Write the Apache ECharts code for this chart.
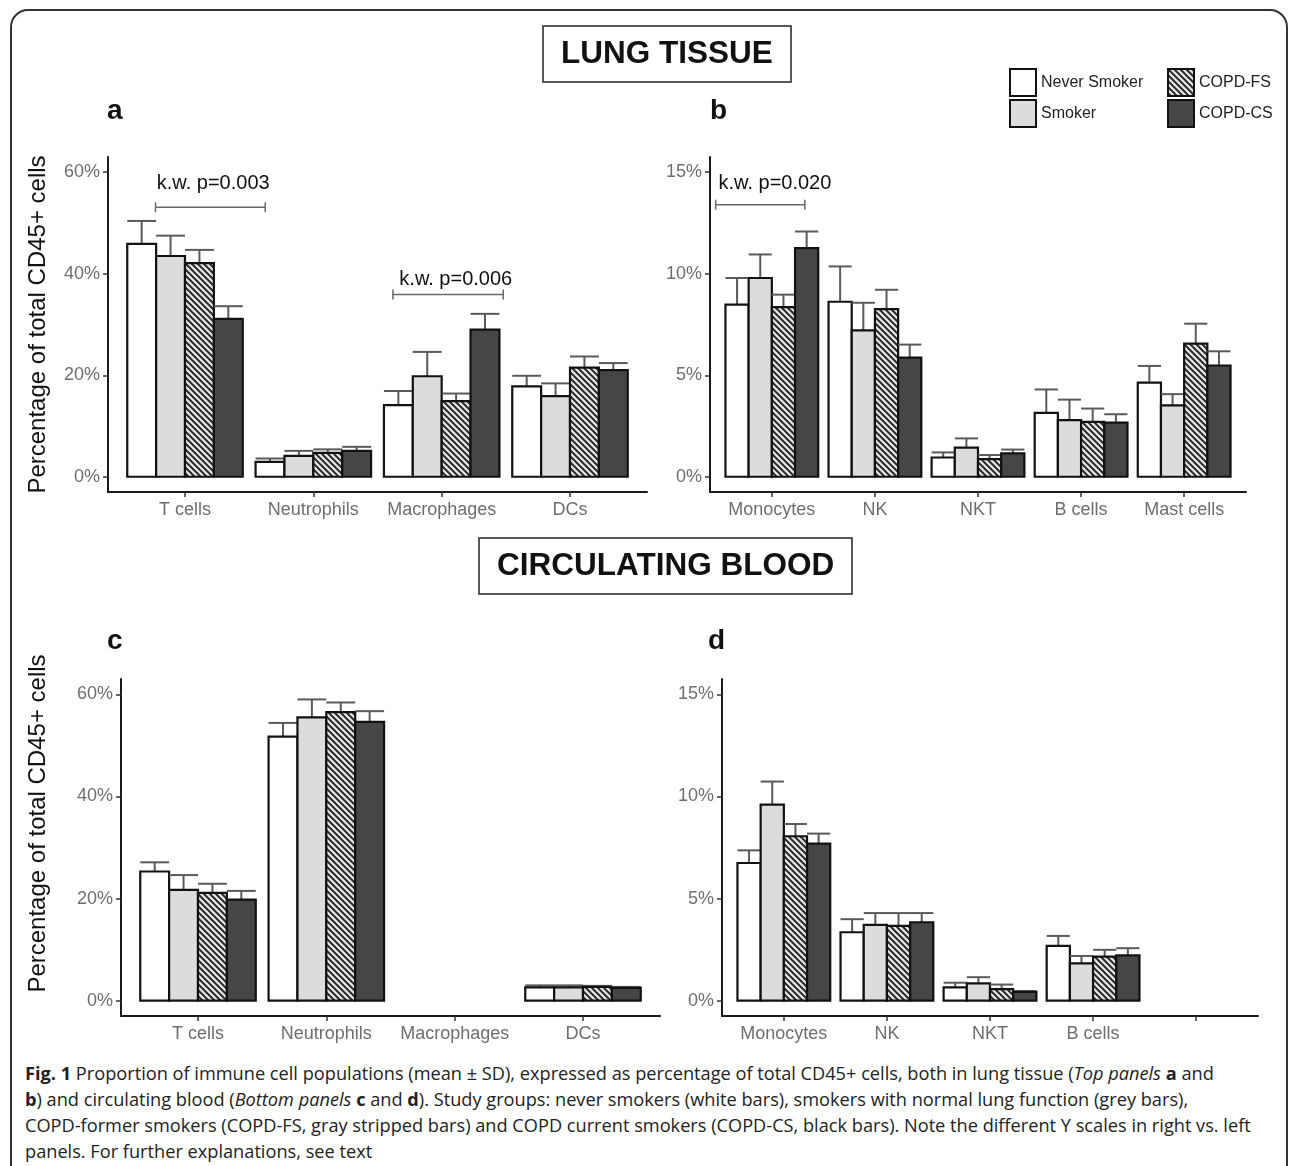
<!DOCTYPE html>
<html>
<head>
<meta charset="utf-8">
<script src="https://cdn.jsdelivr.net/npm/echarts@6/dist/echarts.min.js"></script>
<style>
  body { margin: 0; background: #fff; }
  #frame { position: absolute; left: 10px; top: 9px; width: 1278px; height: 1200px; border: 2px solid #333; border-radius: 18px; box-sizing: border-box; }
  #chart { position: absolute; left: 0; top: 0; width: 1293px; height: 1060px; }
  #caption { position: absolute; left: 25px; top: 1060px; font-family: 'Open Sans', sans-serif; font-size: 18.2px; line-height: 26px; color: #222; white-space: nowrap; }
</style>
</head>
<body>
<div id="frame"></div>
<div id="chart"></div>
<div id="caption">
  <div><b>Fig. 1</b> Proportion of immune cell populations (mean ± SD), expressed as percentage of total CD45+ cells, both in lung tissue (<i>Top panels</i> <b>a</b> and</div>
  <div><b>b</b>) and circulating blood (<i>Bottom panels</i> <b>c</b> and <b>d</b>). Study groups: never smokers (white bars), smokers with normal lung function (grey bars),</div>
  <div>COPD-former smokers (COPD-FS, gray stripped bars) and COPD current smokers (COPD-CS, black bars). Note the different Y scales in right vs. left</div>
  <div>panels. For further explanations, see text</div>
</div>
<script>
// groups
const groups = ['Never Smoker', 'Smoker', 'COPD-FS', 'COPD-CS']

// lung tissue, left panel (a)
const lungLeftCats = ['T cells', 'Neutrophils', 'Macrophages', 'DCs']
const lungLeftNever = [45.9, 2.95, 14.1, 17.8]
const lungLeftSmoker = [43.5, 4.1, 19.8, 15.9]
const lungLeftFS = [42.1, 4.7, 14.9, 21.5]
const lungLeftCS = [31.1, 5.1, 29.0, 21.0]
const lungLeftNeverSD = [4.5, 0.65, 2.8, 2.1]
const lungLeftSmokerSD = [4.0, 1.0, 4.8, 2.5]
const lungLeftFSSD = [2.6, 0.7, 1.5, 2.2]
const lungLeftCSSD = [2.5, 0.8, 3.1, 1.4]

// lung tissue, right panel (b)
const lungRightCats = ['Monocytes', 'NK', 'NKT', 'B cells', 'Mast cells']
const lungRightNever = [8.48, 8.62, 0.95, 3.15, 4.64]
const lungRightSmoker = [9.79, 7.21, 1.44, 2.79, 3.52]
const lungRightFS = [8.36, 8.26, 0.87, 2.70, 6.56]
const lungRightCS = [11.26, 5.87, 1.15, 2.67, 5.48]
const lungRightNeverSD = [1.31, 1.74, 0.25, 1.15, 0.82]
const lungRightSmokerSD = [1.16, 1.36, 0.45, 1.01, 0.55]
const lungRightFSSD = [0.61, 0.95, 0.20, 0.66, 0.98]
const lungRightCSSD = [0.82, 0.64, 0.19, 0.41, 0.70]

// circulating blood, left panel (c)
const bloodLeftCats = ['T cells', 'Neutrophils', 'Macrophages', 'DCs']
const bloodLeftNever = [25.3, 51.7, null, 2.6]
const bloodLeftSmoker = [21.7, 55.5, null, 2.6]
const bloodLeftFS = [21.1, 56.5, null, 2.7]
const bloodLeftCS = [19.8, 54.6, null, 2.5]
const bloodLeftNeverSD = [1.8, 2.7, null, 0.4]
const bloodLeftSmokerSD = [2.9, 3.5, null, 0.4]
const bloodLeftFSSD = [1.8, 1.9, null, 0.2]
const bloodLeftCSSD = [1.7, 2.1, null, 0.2]

// circulating blood, right panel (d)
const bloodRightCats = ['Monocytes', 'NK', 'NKT', 'B cells', '']
const bloodRightNever = [6.74, 3.35, 0.65, 2.68]
const bloodRightSmoker = [9.60, 3.71, 0.85, 1.83]
const bloodRightFS = [8.05, 3.66, 0.57, 2.16]
const bloodRightCS = [7.69, 3.84, 0.43, 2.22]
const bloodRightNeverSD = [0.62, 0.64, 0.23, 0.49]
const bloodRightSmokerSD = [1.13, 0.58, 0.30, 0.36]
const bloodRightFSSD = [0.60, 0.63, 0.22, 0.33]
const bloodRightCSSD = [0.49, 0.45, 0.04, 0.35]

// Kruskal-Wallis brackets: [from, to, height, label x, label y]
const lungLeftBrackets = [[-0.23, 0.625, 53.1, 0.22, 57.8], [1.62, 2.48, 35.9, 2.11, 38.8]]
const lungLeftBracketLabels = ['k.w. p=0.003', 'k.w. p=0.006']
const lungRightBrackets = [[-0.545, 0.32, 13.4, 0.03, 14.45]]
const lungRightBracketLabels = ['k.w. p=0.020']

const FONT = "'Liberation Sans', Arial, sans-serif"
const YTITLE = 'Percentage of total CD45+ cells'

// diagonal stripes for COPD-FS
function makeHatch () {
  const s = 6
  const c = document.createElement('canvas')
  c.width = s
  c.height = s
  const g = c.getContext('2d')
  g.fillStyle = '#e8e8e8'
  g.fillRect(0, 0, s, s)
  g.strokeStyle = '#2b2b2b'
  g.lineWidth = 2
  g.beginPath()
  g.moveTo(0, 0); g.lineTo(s, s)
  g.moveTo(-s / 2, s / 2); g.lineTo(s / 2, s * 1.5)
  g.moveTo(s / 2, -s / 2); g.lineTo(s * 1.5, s / 2)
  g.stroke()
  return c
}
const fills = ['#ffffff', '#dcdcdc', { type: 'pattern', image: makeHatch(), repeat: 'repeat' }, '#464646']

const panels = [
  {
    cats: lungLeftCats,
    means: [lungLeftNever, lungLeftSmoker, lungLeftFS, lungLeftCS],
    sds: [lungLeftNeverSD, lungLeftSmokerSD, lungLeftFSSD, lungLeftCSSD],
    brackets: lungLeftBrackets, bracketLabels: lungLeftBracketLabels,
    grid: { left: 108, top: 157, width: 539, height: 335 },
    yMin: -3, yMax: 63, ticks: [0, 20, 40, 60], title: true, nameGap: 58, namePad: 0
  },
  {
    cats: lungRightCats,
    means: [lungRightNever, lungRightSmoker, lungRightFS, lungRightCS],
    sds: [lungRightNeverSD, lungRightSmokerSD, lungRightFSSD, lungRightCSSD],
    brackets: lungRightBrackets, bracketLabels: lungRightBracketLabels,
    grid: { left: 710, top: 157, width: 536, height: 335 },
    yMin: -0.75, yMax: 15.75, ticks: [0, 5, 10, 15], title: false
  },
  {
    cats: bloodLeftCats,
    means: [bloodLeftNever, bloodLeftSmoker, bloodLeftFS, bloodLeftCS],
    sds: [bloodLeftNeverSD, bloodLeftSmokerSD, bloodLeftFSSD, bloodLeftCSSD],
    brackets: [], bracketLabels: [],
    grid: { left: 121, top: 679, width: 539, height: 337 },
    yMin: -3, yMax: 63, ticks: [0, 20, 40, 60], title: true, nameGap: 71, namePad: 48
  },
  {
    cats: bloodRightCats,
    means: [bloodRightNever, bloodRightSmoker, bloodRightFS, bloodRightCS],
    sds: [bloodRightNeverSD, bloodRightSmokerSD, bloodRightFSSD, bloodRightCSSD],
    brackets: [], bracketLabels: [],
    grid: { left: 722, top: 679, width: 536, height: 337 },
    yMin: -0.75, yMax: 15.75, ticks: [0, 5, 10, 15], title: false
  }
]

const BAR = 0.225
const grids = []
const xAxes = []
const yAxes = []
const series = []

panels.forEach((p, pi) => {
  const n = p.cats.length
  const idx = p.cats.map((c, i) => i)
  grids.push(Object.assign({ containLabel: false }, p.grid))
  xAxes.push({
    type: 'value', gridIndex: pi, min: -0.6, max: n - 0.4,
    splitLine: { show: false },
    axisLine: { onZero: false, lineStyle: { color: '#1a1a1a', width: 2 } },
    axisTick: { customValues: idx, length: 5, lineStyle: { color: '#333', width: 1.5 } },
    axisLabel: {
      customValues: idx, margin: 9, color: '#6e6e6e', fontSize: 18, fontFamily: FONT,
      formatter: v => p.cats[v] || ''
    }
  })
  yAxes.push({
    type: 'value', gridIndex: pi, min: p.yMin, max: p.yMax,
    splitLine: { show: false },
    name: p.title ? YTITLE : '',
    nameLocation: 'middle', nameGap: p.nameGap || 0,
    nameTextStyle: { fontSize: 24, color: '#111', fontFamily: FONT, padding: [0, 0, 0, p.namePad || 0] },
    axisLine: { onZero: false, lineStyle: { color: '#1a1a1a', width: 2 } },
    axisTick: { customValues: p.ticks, length: 5, lineStyle: { color: '#333', width: 1.5 } },
    axisLabel: {
      customValues: p.ticks, margin: 8, color: '#6e6e6e', fontSize: 18, fontFamily: FONT,
      formatter: v => v + '%'
    }
  })

  groups.forEach((g, k) => {
    const data = []
    p.means[k].forEach((m, i) => {
      if (m != null) data.push([i, m, m + p.sds[k][i]])
    })
    series.push({
      type: 'custom', name: g, xAxisIndex: pi, yAxisIndex: pi,
      itemStyle: { color: fills[k], borderColor: '#111', borderWidth: 2 },
      data,
      renderItem: (params, api) => {
        const i = api.value(0)
        const x0 = i - 0.45 + k * BAR
        const a = api.coord([x0, api.value(1)])
        const b = api.coord([x0 + BAR, 0])
        const t = api.coord([x0 + BAR / 2, api.value(2)])
        return {
          type: 'group',
          children: [
            { type: 'line', shape: { x1: t[0], y1: a[1], x2: t[0], y2: t[1] }, style: { stroke: '#5a5a5a', lineWidth: 2 } },
            { type: 'line', shape: { x1: a[0], y1: t[1], x2: b[0], y2: t[1] }, style: { stroke: '#5a5a5a', lineWidth: 2 } },
            { type: 'rect', shape: { x: a[0], y: a[1], width: b[0] - a[0], height: b[1] - a[1] }, style: { fill: fills[k], stroke: '#111', lineWidth: 2.2 } }
          ]
        }
      }
    })
  })

  if (p.brackets.length) {
    series.push({
      type: 'custom', name: 'kw', xAxisIndex: pi, yAxisIndex: pi, silent: true,
      data: p.brackets,
      renderItem: (params, api) => {
        const l = api.coord([api.value(0), api.value(2)])
        const r = api.coord([api.value(1), api.value(2)])
        const c = api.coord([api.value(3), api.value(4)])
        const st = { stroke: '#6a6a6a', lineWidth: 1.5 }
        return {
          type: 'group',
          children: [
            { type: 'line', shape: { x1: l[0], y1: l[1], x2: r[0], y2: r[1] }, style: st },
            { type: 'line', shape: { x1: l[0], y1: l[1] - 5, x2: l[0], y2: l[1] + 5 }, style: st },
            { type: 'line', shape: { x1: r[0], y1: r[1] - 5, x2: r[0], y2: r[1] + 5 }, style: st },
            { type: 'text', x: c[0], y: c[1], style: { text: p.bracketLabels[params.dataIndex], fill: '#111', font: '20px ' + FONT, align: 'center', verticalAlign: 'middle' } }
          ]
        }
      }
    })
  }
})

const boxTitle = (text, left, top) => ({
  text, left, top, padding: [12, 18], borderColor: '#222', borderWidth: 1.5,
  textStyle: { fontSize: 31.5, fontWeight: 'bold', color: '#111', fontFamily: FONT, lineHeight: 30 }
})
const letter = (text, left, top) => ({
  text, left, top, padding: 0,
  textStyle: { fontSize: 28, fontWeight: 'bold', color: '#111', fontFamily: FONT, lineHeight: 28 }
})

const legendBase = {
  orient: 'vertical', icon: 'rect', itemWidth: 26, itemHeight: 27, itemGap: 2,
  selectedMode: false, padding: 0,
  textStyle: { fontSize: 16, color: '#222', fontFamily: FONT }
}

const chart = echarts.init(document.getElementById('chart'))
chart.setOption({
  animation: false,
  title: [
    boxTitle('LUNG TISSUE', 543, 27),
    boxTitle('CIRCULATING BLOOD', 479, 539),
    letter('a', 107, 97),
    letter('b', 710, 97),
    letter('c', 107, 627),
    letter('d', 708, 627)
  ],
  legend: [
    Object.assign({ data: ['Never Smoker', 'Smoker'], left: 1009, top: 68 }, legendBase),
    Object.assign({ data: ['COPD-FS', 'COPD-CS'], left: 1167, top: 68 }, legendBase)
  ],
  grid: grids,
  xAxis: xAxes,
  yAxis: yAxes,
  series
})
</script>
</body>
</html>
